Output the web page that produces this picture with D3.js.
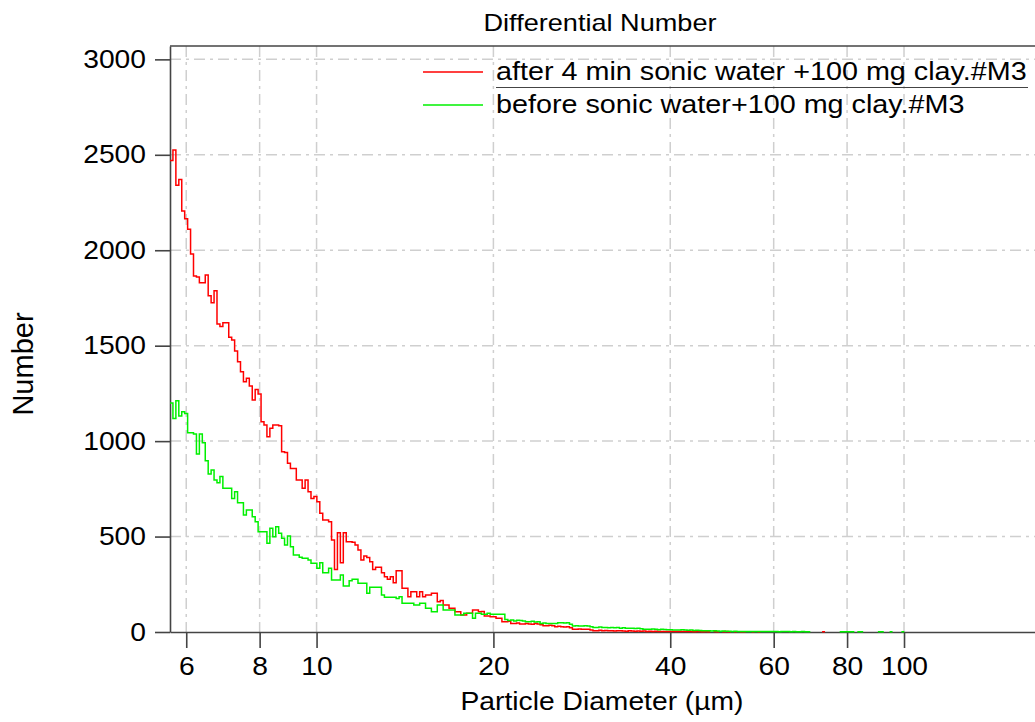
<!DOCTYPE html>
<html>
<head>
<meta charset="utf-8">
<script src="https://cdn.jsdelivr.net/npm/d3@7"></script>
<style>
  body { margin: 0; background: #fff; }
  text { font-family: "Liberation Sans", Arial, sans-serif; fill: #000; }
</style>
</head>
<body>
<div id="chart"></div>
<script>
// bins are log-spaced: lower edge of the first bin and width in log10 units
var binStart = 5.63;
var binLogStep = 0.005;

var seriesNames = ["after 4 min sonic water +100 mg clay.#M3", "before sonic water+100 mg clay.#M3"];

// Differential number per bin
var afterSonic = [
  2470, 2525, 2340, 2370, 2205, 2165, 2110, 1980, 1865, 1860,
  1830, 1830, 1870, 1762, 1725, 1788, 1613, 1600, 1620, 1620,
  1544, 1530, 1472, 1416, 1364, 1311, 1329, 1289, 1215, 1271,
  1247, 1102, 1084, 1023, 1067, 1084, 1084, 1080, 944, 940,
  884, 857, 857, 796, 796, 753, 796, 735, 700, 710,
  683, 622, 587, 587, 578, 482, 328, 520, 363, 520,
  473, 473, 470, 456, 430, 377, 398, 390, 368, 328,
  339, 339, 311, 290, 276, 290, 258, 321, 321, 229,
  229, 185, 211, 211, 185, 211, 185, 194, 194, 203,
  203, 159, 165, 141, 141, 124, 124, 106, 106, 89,
  89, 98, 98, 115, 115, 106, 108, 84, 84, 80,
  80, 72, 72, 54, 54, 56, 45, 45, 47, 42,
  42, 45, 42, 40, 45, 42, 38, 33, 33, 35,
  33, 28, 30, 28, 26, 28, 22, 14, 14, 16,
  14, 15, 14, 10, 7, 7, 9, 7, 8, 7,
  7, 5, 7, 6, 5, 4, 6, 5, 4, 5,
  4, 5, 3, 4, 3, 4, 3, 2, 3, 3,
  3, 2, 3, 2, 2, 3, 2, 2, 1, 2,
  2, 1, 2, 1, 0, 2, 1, 0, 1, 2,
  1, 0, 1, 0, 1, 1, 0, 0, 1, 0,
  1, 0, 0, 0, 0, 0, 0, 0, 0, 0,
  0, 0, 0, 0, 0, 0, 0, 0, 0, 0,
  0, 0, 1
];

var beforeSonic = [
  1200, 1119, 1211, 1131, 1154, 1145, 1044, 1044, 1037, 932,
  1037, 992, 897, 828, 849, 796, 782, 814, 753, 753,
  753, 700, 735, 677, 677, 613, 639, 639, 604, 578,
  525, 525, 525, 465, 543, 499, 552, 517, 491, 456,
  503, 447, 403, 403, 391, 386, 386, 377, 360, 360,
  334, 363, 311, 311, 334, 272, 272, 272, 298, 241,
  241, 269, 276, 276, 255, 255, 255, 203, 234, 234,
  234, 234, 194, 182, 182, 182, 182, 176, 185, 150,
  150, 150, 150, 141, 141, 150, 150, 124, 124, 106,
  106, 141, 141, 115, 115, 115, 115, 89, 89, 89,
  98, 98, 98, 72, 98, 98, 93, 93, 98, 93,
  93, 93, 93, 93, 66, 60, 63, 58, 62, 60,
  58, 54, 54, 56, 52, 54, 45, 47, 45, 45,
  44, 45, 49, 49, 47, 49, 40, 31, 33, 31,
  31, 33, 31, 28, 24, 24, 26, 24, 24, 22,
  24, 22, 24, 20, 22, 19, 19, 20, 18, 19,
  17, 14, 15, 14, 16, 14, 12, 14, 13, 12,
  12, 10, 11, 10, 12, 10, 9, 10, 8, 9,
  8, 7, 6, 7, 5, 6, 5, 4, 5, 4,
  4, 3, 4, 3, 3, 2, 3, 3, 2, 3,
  2, 3, 2, 2, 3, 2, 2, 1, 2, 2,
  2, 1, 2, 1, 1, 2, 1, 1, 0, 0,
  0, 0, 0, 0, 0, 0, 0, 0, 1, 1,
  1, 1, 1, 0, 1, 1, 0, 0, 0, 0,
  0, 1, 1, 0, 0, 1, 0, 0, 0, 1
];

var xTickValues = [6, 8, 10, 20, 40, 60, 80, 100];
var yTickValues = [0, 500, 1000, 1500, 2000, 2500, 3000];

var svgWidth = 1035;
var svgHeight = 722;
var margin = { top: 46, right: 0, bottom: 90, left: 170 };
var width = svgWidth - margin.left - margin.right;
var height = svgHeight - margin.top - margin.bottom;

// the reference text is wider than plain Arial, so stretch it a bit
var sx = 1.13;
var axisColor = "#444";
var gridColor = "#cfcfcf";
var colors = ["#ff0000", "#00f000"];

var svg = d3.select("#chart")
  .append("svg")
  .attr("width", svgWidth)
  .attr("height", svgHeight);

var chartGroup = svg.append("g")
  .attr("transform", `translate(${margin.left}, ${margin.top})`);

var xScale = d3.scaleLog().domain([5.63, 167.1]).range([0, width]);
var yScale = d3.scaleLinear().domain([0, 3070]).range([height, 0]);

// gridlines
chartGroup.append("g")
  .selectAll("line")
  .data(xTickValues)
  .enter()
  .append("line")
  .attr("x1", d => xScale(d)).attr("x2", d => xScale(d))
  .attr("y1", 0).attr("y2", height)
  .attr("stroke", gridColor).attr("stroke-width", 1.5)
  .attr("stroke-dasharray", "11,5,3,5");

chartGroup.append("g")
  .selectAll("line")
  .data(yTickValues.filter(d => d > 0))
  .enter()
  .append("line")
  .attr("x1", 0).attr("x2", width)
  .attr("y1", d => yScale(d)).attr("y2", d => yScale(d))
  .attr("stroke", gridColor).attr("stroke-width", 1.5)
  .attr("stroke-dasharray", "11,5,3,5");

// axes
var bottomAxis = d3.axisBottom(xScale)
  .tickValues(xTickValues)
  .tickFormat(d3.format("d"))
  .tickSize(16).tickPadding(9).tickSizeOuter(0);

var leftAxis = d3.axisLeft(yScale)
  .tickValues(yTickValues)
  .tickFormat(d3.format("d"))
  .tickSize(15).tickPadding(9).tickSizeOuter(0);

var xAxisG = chartGroup.append("g")
  .attr("transform", `translate(0, ${height})`)
  .call(bottomAxis);

var yAxisG = chartGroup.append("g")
  .call(leftAxis);

[xAxisG, yAxisG].forEach(function(g) {
  g.attr("font-size", null).attr("font-family", null);
  g.selectAll("path, line").attr("stroke", axisColor).attr("stroke-width", 1.6);
  g.selectAll("text")
    .style("font-size", "25px")
    .attr("fill", "#000")
    .attr("transform", `scale(${sx},1)`);
});
yAxisG.selectAll("text").attr("x", -24 / sx);

// top frame line
chartGroup.append("line")
  .attr("x1", 0).attr("x2", width)
  .attr("y1", 0).attr("y2", 0)
  .attr("stroke", axisColor).attr("stroke-width", 1.6);

// step histogram lines
function stepPoints(values) {
  var pts = [];
  values.forEach(function(v, i) {
    var lo = binStart * Math.pow(10, binLogStep * i);
    var hi = binStart * Math.pow(10, binLogStep * (i + 1));
    pts.push({ d: lo, v: v }, { d: hi, v: v });
  });
  return pts;
}

var stepLine = d3.line()
  .defined(p => p.v > 0)
  .x(p => xScale(p.d))
  .y(p => yScale(p.v));

[afterSonic, beforeSonic].forEach(function(values, k) {
  chartGroup.append("path")
    .attr("d", stepLine(stepPoints(values)))
    .attr("fill", "none")
    .attr("stroke", colors[k])
    .attr("stroke-width", 1.5);
});

// legend
var legendRows = [
  { name: seriesNames[0], color: colors[0], lineY: 72, textY: 80 },
  { name: seriesNames[1], color: colors[1], lineY: 105, textY: 113 }
];

legendRows.forEach(function(r) {
  svg.append("line")
    .attr("x1", 423).attr("x2", 483)
    .attr("y1", r.lineY).attr("y2", r.lineY)
    .attr("stroke", r.color).attr("stroke-width", 1.5);
  svg.append("text")
    .attr("transform", `translate(496, ${r.textY}) scale(${sx + 0.02},1)`)
    .style("font-size", "25px")
    .text(r.name);
});

// underline under the first legend entry
svg.append("line")
  .attr("x1", 496).attr("x2", 1028)
  .attr("y1", 87.5).attr("y2", 87.5)
  .attr("stroke", axisColor).attr("stroke-width", 1.2);

// title and axis labels
svg.append("text")
  .attr("transform", `translate(600, 31) scale(${sx},1)`)
  .attr("text-anchor", "middle")
  .style("font-size", "24px")
  .text("Differential Number");

svg.append("text")
  .attr("transform", `translate(602, 710) scale(${sx},1)`)
  .attr("text-anchor", "middle")
  .style("font-size", "25px")
  .text("Particle Diameter (µm)");

svg.append("text")
  .attr("transform", "translate(33, 364) rotate(-90)")
  .attr("text-anchor", "middle")
  .style("font-size", "29px")
  .text("Number");
</script>
</body>
</html>
